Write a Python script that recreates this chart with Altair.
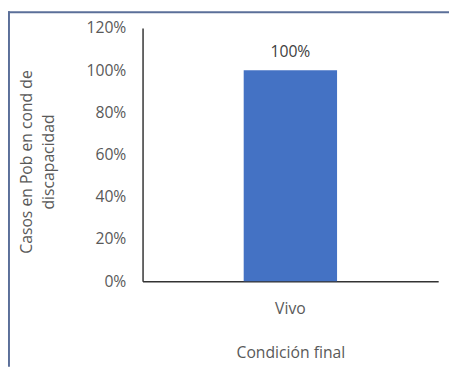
import altair as alt
import pandas as pd

categories = ["Vivo"]
values = [1.0]
y_ticks = [0, 0.2, 0.4, 0.6, 0.8, 1.0, 1.2]
x_title = "Condición final"
y_title = ["Casos en Pob en cond de", "discapacidad"]

df = pd.DataFrame({"cond": categories, "pct": values})

FONT = "Open Sans"
FS = 16
GREY = "#595959"

x_enc = alt.X(
    "cond:N",
    title=x_title,
    scale=alt.Scale(paddingInner=0.52, paddingOuter=0.52),
    axis=alt.Axis(
        labelAngle=0, ticks=False, tickSize=0, labelPadding=28,
        labelBaseline="middle", labelFont=FONT, labelFontSize=FS, labelColor=GREY,
        titleFont=FONT, titleFontSize=FS, titleColor=GREY, titleFontWeight="normal",
        titleY=73, titleBaseline="middle",
        domainColor="#333333", domainWidth=1.5,
    ),
)
y_enc = alt.Y(
    "pct:Q",
    title=y_title,
    scale=alt.Scale(domain=[0, 1.2], nice=False),
    axis=alt.Axis(
        values=y_ticks, format=".0%", grid=False, ticks=False, tickSize=0,
        labelPadding=17, labelFont=FONT, labelFontSize=FS, labelColor=GREY,
        titleFont=FONT, titleFontSize=FS, titleColor=GREY, titleFontWeight="normal",
        titleX=-118, titleY=136, titleBaseline="middle", titleAlign="center",
        titleAngle=270, titleLineHeight=22,
        domainColor="#333333", domainWidth=1.5,
    ),
)

base = alt.Chart(df)
bars = base.mark_bar(color="#4472C4").encode(x=x_enc, y=y_enc)
labels = base.mark_text(
    font=FONT, fontSize=FS, color="#404040", baseline="middle", dy=-18
).encode(
    x=alt.X("cond:N", title=x_title),
    y=alt.Y("pct:Q", title=y_title),
    text=alt.Text("pct:Q", format=".0%"),
)
frame_top = base.mark_rule(color="#5b6f99", strokeWidth=2).encode(
    x=alt.value(-137), x2=alt.value(320), y=alt.value(-16)
)
frame_left = base.mark_rule(color="#5b6f99", strokeWidth=2).encode(
    x=alt.value(-136), y=alt.value(-17), y2=alt.value(345)
)

chart = alt.layer(bars, labels, frame_top, frame_left).properties(
    width=301,
    height=258,
    autosize=alt.AutoSizeParams(type="none"),
    padding={"left": 137, "top": 17, "right": 11, "bottom": 87},
).configure_view(stroke=None)

chart.save("out.html", embed_options={"renderer": "svg", "actions": False})
